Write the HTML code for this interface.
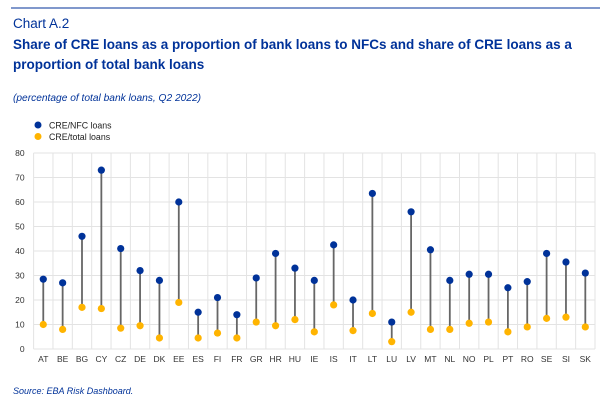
<!DOCTYPE html>
<html><head><meta charset="utf-8"><style>
body{margin:0;background:#fff;font-family:"Liberation Sans",sans-serif;}
svg text{font-family:"Liberation Sans",sans-serif;}
</style></head><body>
<svg width="600" height="400" xmlns="http://www.w3.org/2000/svg">
<line x1="11" y1="8" x2="600" y2="8" stroke="#003299" stroke-width="1"/>
<text x="13" y="28" font-size="13.5" fill="#003299">Chart A.2</text>
<text x="13" y="49" font-size="13.5" font-weight="bold" fill="#003299">Share of CRE loans as a proportion of bank loans to NFCs and share of CRE loans as a</text>
<text x="13" y="69" font-size="13.5" font-weight="bold" fill="#003299">proportion of total bank loans</text>
<text x="13" y="101" font-size="10.2" font-style="italic" fill="#003299">(percentage of total bank loans, Q2 2022)</text>
<circle cx="38" cy="125" r="3.5" fill="#003299"/>
<text x="49" y="128.5" font-size="8.8" fill="#222">CRE/NFC loans</text>
<circle cx="38" cy="136.5" r="3.5" fill="#FFB400"/>
<text x="49" y="140" font-size="8.8" fill="#222">CRE/total loans</text>
<g id="plot"></g>
<text x="13" y="394" font-size="9" font-style="italic" fill="#003299">Source: EBA Risk Dashboard.</text>
</svg>
<script>
const categories=["AT","BE","BG","CY","CZ","DE","DK","EE","ES","FI","FR","GR","HR","HU","IE","IS","IT","LT","LU","LV","MT","NL","NO","PL","PT","RO","SE","SI","SK"];
const nfcValues=[28.5,27,46,73,41,32,28,60,15,21,14,29,39,33,28,42.5,20,63.5,11,56,40.5,28,30.5,30.5,25,27.5,39,35.5,31];
const totalValues=[10,8,17,16.5,8.5,9.5,4.5,19,4.5,6.5,4.5,11,9.5,12,7,18,7.5,14.5,3,15,8,8,10.5,11,7,9,12.5,13,9];
const yTicks=[0,10,20,30,40,50,60,70,80];
const L=33.6,R=595,T=153,B=349,yMax=80;
const step=(R-L)/categories.length;
const x=i=>L+step*(i+0.5);
const y=v=>B-(v/yMax)*(B-T);
const NS="http://www.w3.org/2000/svg";
const g=document.getElementById('plot');
function mk(t,a){const e=document.createElementNS(NS,t);for(const k in a)e.setAttribute(k,a[k]);g.appendChild(e);return e;}
yTicks.forEach(v=>{
 const l=mk('line',{x1:L,x2:R,y1:y(v),y2:y(v),stroke:'#e3e3e3','stroke-width':1});
 
 
 const t=mk('text',{x:L-9,y:y(v)+3,'font-size':8.5,fill:'#333','text-anchor':'end'});
 t.textContent=v;
 
 
});
for(let i=0;i<=categories.length;i++){
 const l=mk('line',{x1:L+step*i,x2:L+step*i,y1:T,y2:B,stroke:'#e3e3e3','stroke-width':1});
 
 
}
categories.forEach((c,i)=>{
 const s=mk('line',{x1:x(i),x2:x(i),y1:y(nfcValues[i]),y2:y(totalValues[i]),stroke:'#666','stroke-width':1.8});
 
 
 const a=mk('circle',{cx:x(i),cy:y(nfcValues[i]),r:3.6,fill:'#003299'});
 
 
 const b=mk('circle',{cx:x(i),cy:y(totalValues[i]),r:3.6,fill:'#FFB400'});
 
 
 const t=mk('text',{x:x(i),y:B+13,'font-size':8.5,fill:'#333','text-anchor':'middle'});
 t.textContent=c;
 
 
});
</script>
</body></html>
